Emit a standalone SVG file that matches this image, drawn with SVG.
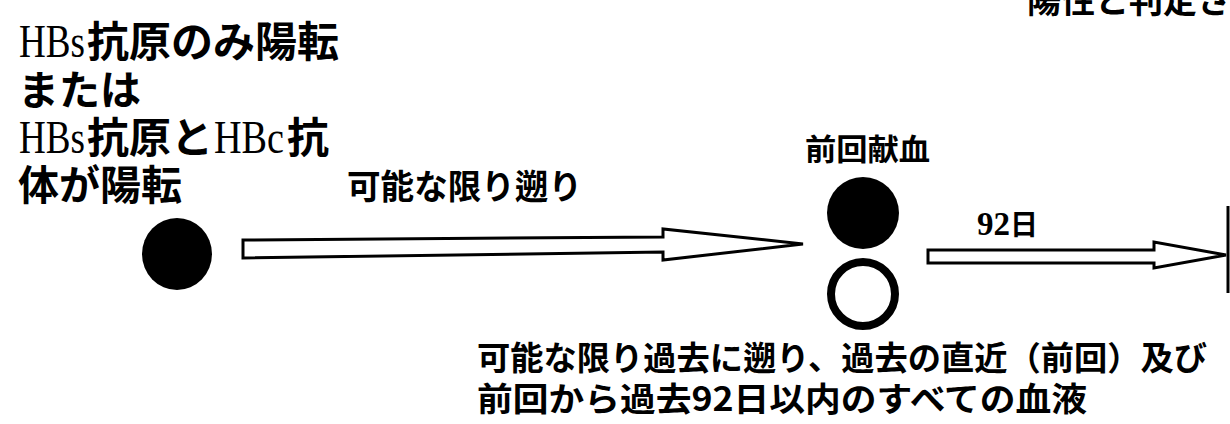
<svg xmlns="http://www.w3.org/2000/svg" width="1230" height="424" viewBox="0 0 1230 424">
<style>
.jp{font-family:"Noto Sans CJK JP","Noto Sans CJK SC",sans-serif;font-weight:700;fill:#000}
.lat{font-family:"Liberation Serif",serif;font-weight:400;fill:#000}
.latb{font-family:"Liberation Serif",serif;font-weight:700;fill:#000}
.arrow{fill:#fff;stroke:#000;stroke-width:3;stroke-linejoin:miter}
</style>
<rect width="1230" height="424" fill="#fff"/>
<g id="label-top-right">
<text class="jp" x="1027" y="13" font-size="34">陽性と判定さ</text>
</g>
<g id="node-positive">
<text class="lat" x="19" y="57" font-size="46" textLength="66" lengthAdjust="spacingAndGlyphs">HBs</text>
<text class="jp" x="87" y="57" font-size="42">抗原のみ陽転</text>
<text class="jp" x="18" y="105" font-size="41">または</text>
<text class="lat" x="19" y="153" font-size="46" textLength="66" lengthAdjust="spacingAndGlyphs">HBs</text>
<text class="jp" x="87" y="153" font-size="42">抗原と</text>
<text class="lat" x="214" y="153" font-size="46" textLength="70" lengthAdjust="spacingAndGlyphs">HBc</text>
<text class="jp" x="287" y="153" font-size="42">抗</text>
<text class="jp" x="18" y="200" font-size="41">体が陽転</text>
<ellipse cx="177" cy="254" rx="35" ry="36" fill="#000"/>
</g>
<g id="node-previous">
<text class="jp" x="805" y="160" font-size="30" textLength="125" lengthAdjust="spacingAndGlyphs">前回献血</text>
<circle cx="863" cy="213" r="36" fill="#000"/>
<circle cx="863" cy="294" r="32" fill="#fff" stroke="#000" stroke-width="8"/>
</g>
<g id="node-limit">
<line x1="1228" y1="206" x2="1228" y2="293" stroke="#000" stroke-width="3"/>
</g>
<g id="connectors">
<polygon class="arrow" points="243,240 663,237 663,229 803,244 663,260 663,252 243,258"/>
<text class="jp" x="347" y="199" font-size="34" textLength="235" lengthAdjust="spacingAndGlyphs">可能な限り遡り</text>
<polygon class="arrow" points="928,250 1154,250 1154,242 1226,255 1154,268 1154,263 928,263"/>
<text class="latb" x="977" y="235" font-size="33">92</text>
<text class="jp" x="1010" y="235" font-size="28">日</text>
</g>
<g id="note-bottom">
<text class="jp" x="477" y="370" font-size="33" textLength="730" lengthAdjust="spacingAndGlyphs">可能な限り過去に遡り、過去の直近（前回）及び</text>
<text class="jp" x="477" y="411" font-size="33" textLength="610" lengthAdjust="spacingAndGlyphs">前回から過去92日以内のすべての血液</text>
</g>
</svg>
